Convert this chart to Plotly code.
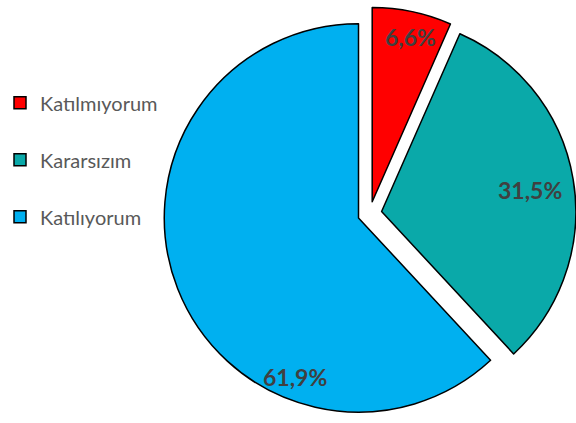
import plotly.graph_objects as go

# Survey answers and their shares (percent)
categories = ["Katılmıyorum", "Kararsızım", "Katılıyorum"]
shares = [6.6, 31.5, 61.9]
slice_colors = ["#FF0000", "#0AA9A9", "#00B0F0"]

# Where each percentage label sits (paper coordinates)
label_x = [0.712, 0.920, 0.510]
label_y = [0.922, 0.556, 0.110]

fig = go.Figure()

fig.add_trace(
    go.Pie(
        labels=categories,
        values=shares,
        sort=False,
        direction="clockwise",
        rotation=0,
        pull=[0.062, 0.062, 0.062],
        marker=dict(colors=slice_colors, line=dict(color="#000000", width=1.5)),
        textinfo="none",
        hovertemplate="%{label}: %{value}%<extra></extra>",
        showlegend=False,
        domain=dict(x=[0.28, 1.0], y=[0.0, 1.0]),
    )
)

# Legend entries: one square swatch per answer, spaced apart with group gaps
for name, color in zip(categories, slice_colors):
    fig.add_trace(
        go.Scatter(
            x=[None],
            y=[None],
            mode="markers",
            name=name,
            legendgroup=name,
            marker=dict(symbol="square", size=12, color=color,
                        line=dict(color="#000000", width=1.5)),
            hoverinfo="skip",
        )
    )

# Percentage labels, formatted from the shares
for value, lx, ly in zip(shares, label_x, label_y):
    fig.add_annotation(
        x=lx,
        y=ly,
        xref="paper",
        yref="paper",
        text=f"{value:.1f}%".replace(".", ","),
        showarrow=False,
        xanchor="center",
        yanchor="middle",
        font=dict(family="Lato", size=23, color="#404040", weight="bold"),
    )

fig.update_layout(
    width=576,
    height=423,
    margin=dict(l=0, r=0, t=4, b=0),
    paper_bgcolor="white",
    plot_bgcolor="white",
    xaxis=dict(visible=False),
    yaxis=dict(visible=False),
    showlegend=True,
    legend=dict(
        x=-0.006,
        y=0.628,
        xanchor="left",
        yanchor="middle",
        tracegroupgap=28,
        font=dict(family="Lato", size=20, color="#595959"),
        bgcolor="rgba(0,0,0,0)",
    ),
)

fig.write_html("out.html")
